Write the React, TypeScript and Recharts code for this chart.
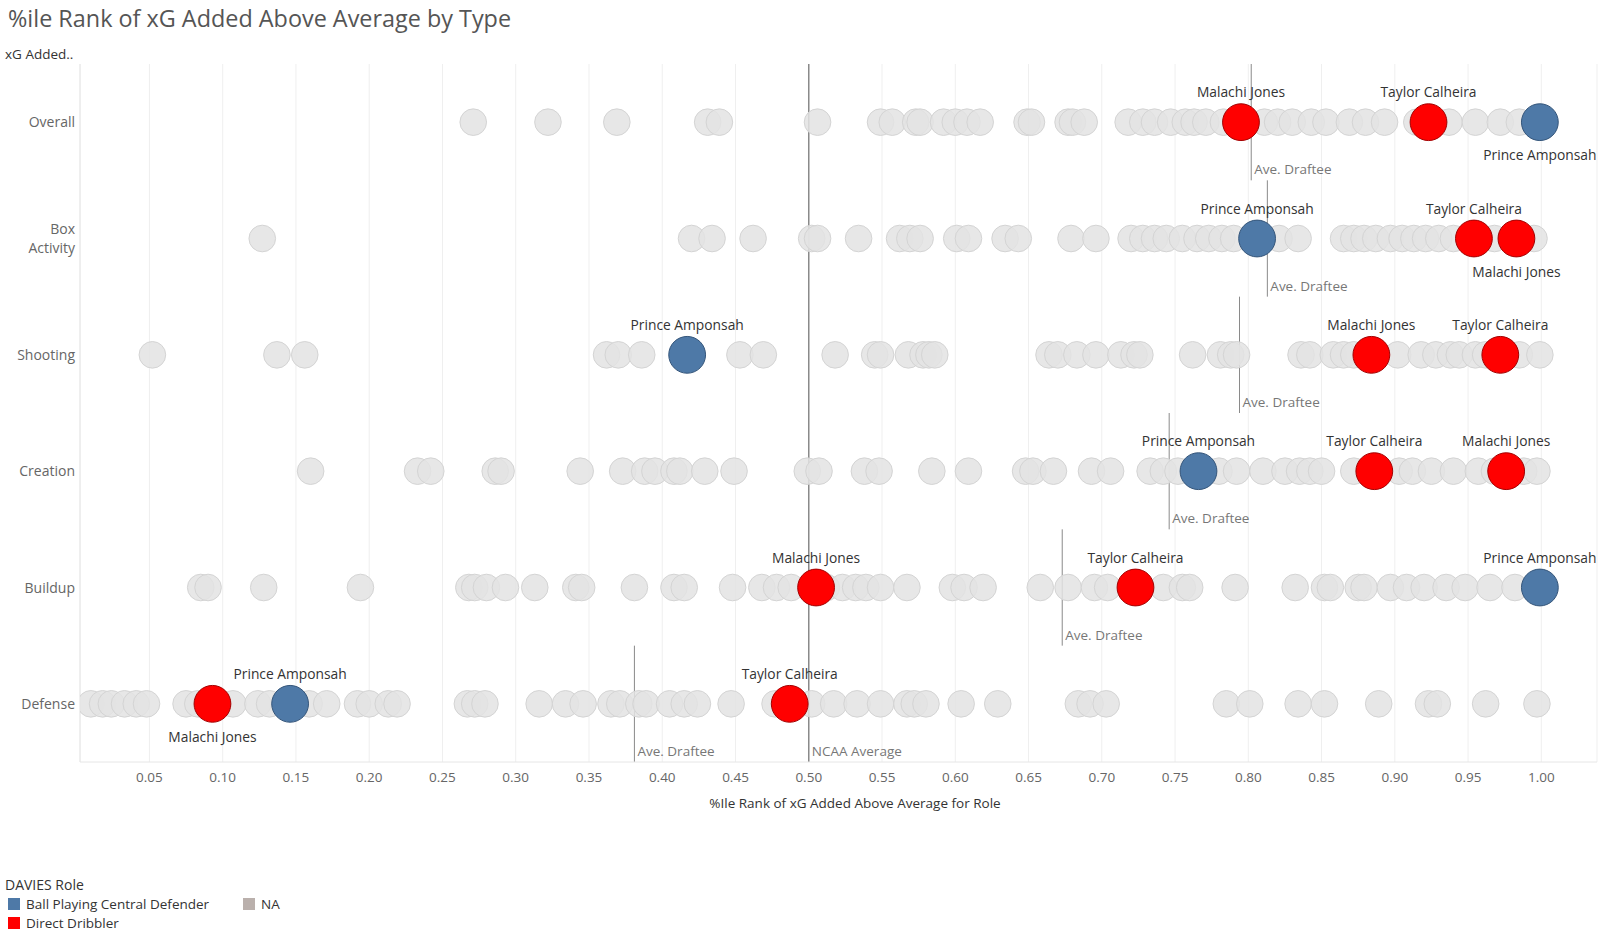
import React from 'react';
import { ScatterChart, Scatter, XAxis, YAxis, CartesianGrid, ReferenceLine } from 'recharts';

// row order, top to bottom
const TYPES = ['Overall', 'Box Activity', 'Shooting', 'Creation', 'Buildup', 'Defense'];
const X_TICKS = [0.05, 0.1, 0.15, 0.2, 0.25, 0.3, 0.35, 0.4, 0.45, 0.5, 0.55, 0.6, 0.65, 0.7, 0.75, 0.8, 0.85, 0.9, 0.95, 1.0];

// all other draftees (DAVIES Role = NA), percentile rank per type
const OVERALL_NA = [0.271, 0.322, 0.369, 0.431, 0.439, 0.506, 0.549, 0.557, 0.573, 0.576, 0.592, 0.6, 0.608, 0.617, 0.649, 0.652, 0.677, 0.68, 0.688, 0.718, 0.728, 0.736, 0.747, 0.757, 0.763, 0.771, 0.783, 0.811, 0.82, 0.83, 0.843, 0.853, 0.869, 0.88, 0.893, 0.915, 0.937, 0.955, 0.972, 0.985];
const BOX_NA = [0.127, 0.42, 0.434, 0.462, 0.502, 0.506, 0.534, 0.562, 0.569, 0.576, 0.601, 0.609, 0.634, 0.643, 0.679, 0.696, 0.72, 0.728, 0.736, 0.744, 0.755, 0.765, 0.773, 0.782, 0.79, 0.821, 0.834, 0.865, 0.872, 0.879, 0.887, 0.897, 0.905, 0.913, 0.921, 0.93, 0.94, 0.968, 0.995];
const SHOOTING_NA = [0.052, 0.137, 0.156, 0.362, 0.37, 0.386, 0.453, 0.469, 0.518, 0.545, 0.549, 0.568, 0.578, 0.582, 0.586, 0.664, 0.67, 0.683, 0.696, 0.713, 0.722, 0.726, 0.762, 0.781, 0.788, 0.792, 0.836, 0.842, 0.858, 0.865, 0.872, 0.902, 0.918, 0.928, 0.938, 0.944, 0.955, 0.962, 0.985, 0.999];
const CREATION_NA = [0.16, 0.233, 0.242, 0.286, 0.29, 0.344, 0.373, 0.388, 0.395, 0.408, 0.412, 0.429, 0.449, 0.499, 0.507, 0.538, 0.548, 0.584, 0.609, 0.648, 0.653, 0.667, 0.693, 0.706, 0.733, 0.742, 0.752, 0.78, 0.792, 0.81, 0.825, 0.835, 0.842, 0.85, 0.872, 0.903, 0.912, 0.925, 0.94, 0.957, 0.968, 0.988, 0.997];
const BUILDUP_NA = [0.085, 0.09, 0.128, 0.194, 0.268, 0.272, 0.28, 0.293, 0.313, 0.341, 0.345, 0.381, 0.408, 0.415, 0.448, 0.468, 0.478, 0.488, 0.512, 0.523, 0.532, 0.539, 0.549, 0.567, 0.598, 0.606, 0.619, 0.658, 0.677, 0.695, 0.704, 0.742, 0.755, 0.76, 0.791, 0.832, 0.852, 0.856, 0.875, 0.879, 0.897, 0.908, 0.92, 0.935, 0.948, 0.965, 0.982];
const DEFENSE_NA = [0.01, 0.018, 0.024, 0.033, 0.041, 0.048, 0.075, 0.083, 0.107, 0.124, 0.132, 0.159, 0.171, 0.192, 0.2, 0.213, 0.219, 0.267, 0.272, 0.279, 0.316, 0.334, 0.346, 0.365, 0.371, 0.384, 0.389, 0.405, 0.415, 0.424, 0.447, 0.477, 0.502, 0.517, 0.533, 0.549, 0.567, 0.572, 0.58, 0.604, 0.629, 0.684, 0.692, 0.703, 0.785, 0.801, 0.834, 0.852, 0.889, 0.923, 0.929, 0.962, 0.997];
const NA_BY_TYPE = [OVERALL_NA, BOX_NA, SHOOTING_NA, CREATION_NA, BUILDUP_NA, DEFENSE_NA];

// highlighted players, one value per type (same order as TYPES)
const MALACHI_JONES = [0.795, 0.983, 0.884, 0.976, 0.505, 0.093];
const TAYLOR_CALHEIRA = [0.923, 0.954, 0.972, 0.886, 0.723, 0.487];
const PRINCE_AMPONSAH = [0.999, 0.806, 0.417, 0.766, 0.999, 0.146];

const AVE_DRAFTEE = [0.802, 0.813, 0.794, 0.746, 0.673, 0.381];
const NCAA_AVERAGE = 0.5;

// rows where tableau put the name under the mark
const LABEL_BELOW = ['Prince Amponsah|0', 'Malachi Jones|1', 'Malachi Jones|5'];

const FONT = '"Open Sans", Lato, sans-serif';
const BLUE = '#4e79a7';
const RED = '#ff0000';

const naData = NA_BY_TYPE.flatMap((vals, row) => vals.map((x) => ({ x, y: row })));
const dribblerData = [
  ...MALACHI_JONES.map((x, row) => ({ x, y: row, name: 'Malachi Jones' })),
  ...TAYLOR_CALHEIRA.map((x, row) => ({ x, y: row, name: 'Taylor Calheira' })),
];
const defenderData = PRINCE_AMPONSAH.map((x, row) => ({ x, y: row, name: 'Prince Amponsah' }));

const naDot = (props: any) => {
  const { cx, cy } = props;
  return <circle cx={cx} cy={cy} r={13.3} fill="#e3e3e3" fillOpacity={0.85} stroke="#d4d4d4" strokeWidth={1} />;
};

const playerDot = (fill: string, stroke: string) => (props: any) => {
  const { cx, cy, payload } = props;
  const below = LABEL_BELOW.includes(`${payload.name}|${payload.y}`);
  return (
    <g>
      <circle cx={cx} cy={cy} r={18.4} fill={fill} stroke={stroke} strokeWidth={1} />
      <text
        x={cx}
        y={below ? cy + 38 : cy - 25}
        textAnchor="middle"
        fontSize={13.8}
        fontFamily={FONT}
        fill="#333"
      >
        {payload.name}
      </text>
    </g>
  );
};

const YTick = ({ x, y, payload }: any) => {
  const lines = TYPES[payload.value] === 'Box Activity' ? ['Box', 'Activity'] : [TYPES[payload.value]];
  const start = y - (lines.length - 1) * 9.8;
  return (
    <text textAnchor="end" fontSize={14} fontFamily={FONT} fill="#666">
      {lines.map((l, i) => (
        <tspan key={l} x={x + 3} y={start + i * 19.6} dy={5}>
          {l}
        </tspan>
      ))}
    </text>
  );
};

const XTick = ({ x, y, payload }: any) => (
  <text x={x} y={y + 12} textAnchor="middle" fontSize={13.5} fontFamily={FONT} fill="#666">
    {payload.value.toFixed(2)}
  </text>
);

const refLabel = (text: string) => ({ viewBox }: any) => (
  <text
    x={viewBox.x + 3}
    y={viewBox.y + viewBox.height - 6}
    fontSize={13.5}
    fontFamily={FONT}
    fill="#777"
  >
    {text}
  </text>
);

const legendItem = (color: string, label: string, left: number, top: number) => (
  <div style={{ position: 'absolute', left, top, display: 'flex', alignItems: 'center' }}>
    <div style={{ width: 12, height: 12, background: color, marginRight: 6 }} />
    <span style={{ fontSize: 13.5, color: '#333' }}>{label}</span>
  </div>
);

export default function App() {
  return (
    <div
      style={{
        position: 'absolute',
        left: 0,
        top: 0,
        width: 1600,
        height: 951,
        background: '#fff',
        fontFamily: FONT,
      }}
    >
      <div style={{ position: 'absolute', left: 8, top: 2, fontSize: 23.4, color: '#555', whiteSpace: 'nowrap' }}>
        %ile Rank of xG Added Above Average by Type
      </div>
      <div style={{ position: 'absolute', left: 5, top: 45, fontSize: 13.5, color: '#333' }}>xG Added..</div>

      <div style={{ position: 'absolute', left: 0, top: 0 }}>
        <ScatterChart width={1600} height={822} margin={{ top: 64, right: 3, bottom: 0, left: 8 }}>
          <CartesianGrid horizontal={false} stroke="#efefef" />
          <XAxis
            type="number"
            dataKey="x"
            domain={[0.0026, 1.038]}
            ticks={X_TICKS}
            allowDataOverflow
            height={60}
            tickLine={false}
            axisLine={{ stroke: '#e6e6e6' }}
            tick={<XTick />}
          />
          <YAxis
            type="number"
            dataKey="y"
            domain={[-0.5, 5.5]}
            ticks={[0, 1, 2, 3, 4, 5]}
            reversed
            width={72}
            tickLine={false}
            axisLine={{ stroke: '#e6e6e6' }}
            tick={<YTick />}
          />
          <Scatter data={naData} shape={naDot} isAnimationActive={false} />
          <Scatter data={defenderData} shape={playerDot(BLUE, '#34557a')} isAnimationActive={false} />
          <Scatter data={dribblerData} shape={playerDot(RED, '#a30000')} isAnimationActive={false} />
          {AVE_DRAFTEE.map((v, row) => (
            <ReferenceLine
              key={row}
              segment={[
                { x: v, y: row - 0.5 },
                { x: v, y: row + 0.5 },
              ]}
              stroke="#8a8a8a"
              strokeWidth={1}
              label={refLabel('Ave. Draftee')}
            />
          ))}
          <ReferenceLine x={NCAA_AVERAGE} stroke="#8a8a8a" strokeWidth={1.5} label={refLabel('NCAA Average')} />
        </ScatterChart>
      </div>

      <div
        style={{
          position: 'absolute',
          left: 855,
          top: 794,
          transform: 'translateX(-50%)',
          fontSize: 13.5,
          color: '#333',
          whiteSpace: 'nowrap',
        }}
      >
        %Ile Rank of xG Added Above Average for Role
      </div>

      <div style={{ position: 'absolute', left: 5, top: 875, fontSize: 14, color: '#333' }}>DAVIES Role</div>
      {legendItem(BLUE, 'Ball Playing Central Defender', 8, 895)}
      {legendItem('#bab0ac', 'NA', 243, 895)}
      {legendItem(RED, 'Direct Dribbler', 8, 914)}
    </div>
  );
}
